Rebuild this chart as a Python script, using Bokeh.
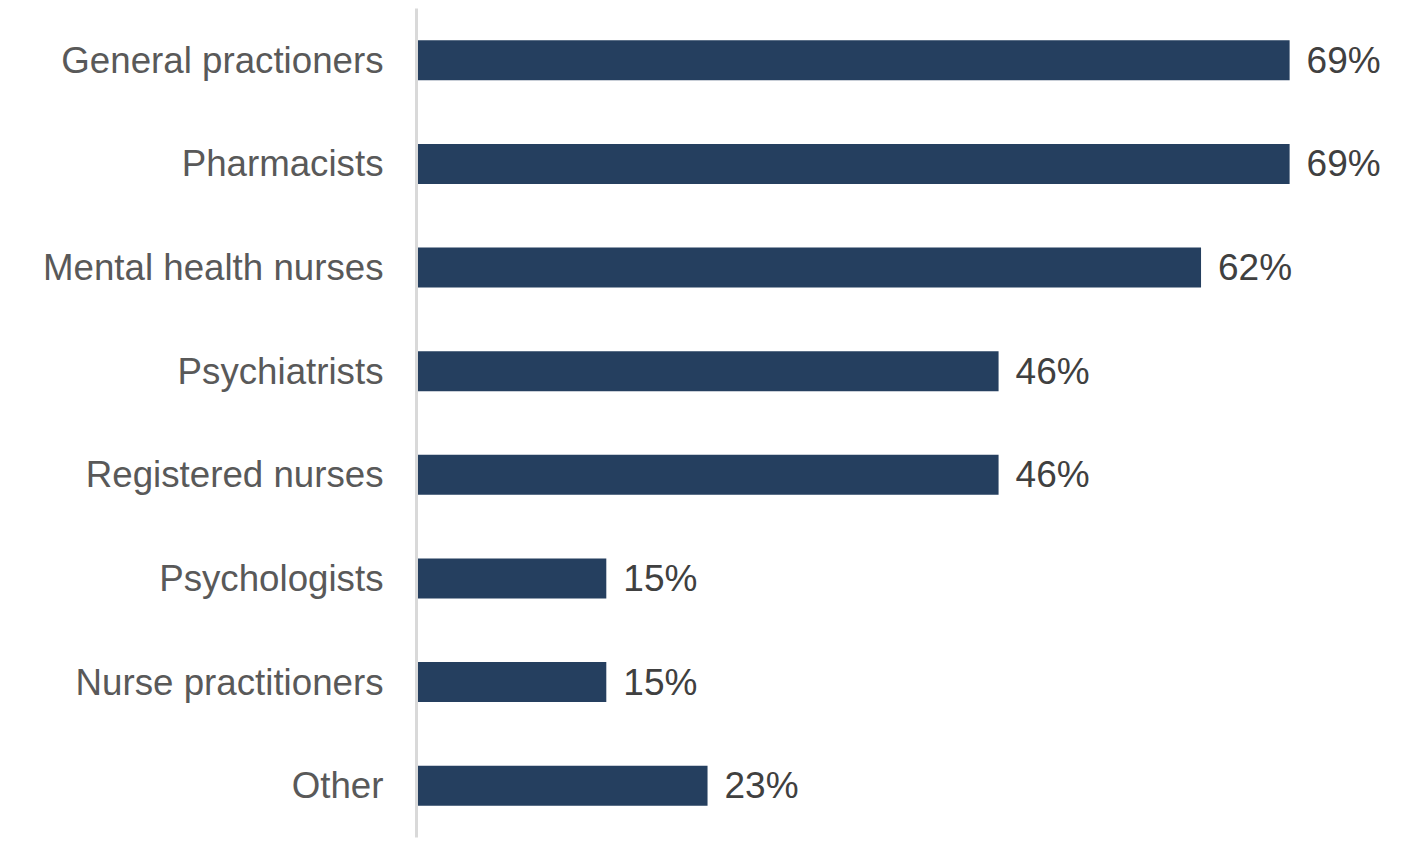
from bokeh.plotting import figure
from bokeh.models import ColumnDataSource, FactorRange, Range1d
from bokeh.embed import file_html
from bokeh.resources import INLINE

# dade ha
professions = ["General practioners", "Pharmacists", "Mental health nurses",
               "Psychiatrists", "Registered nurses", "Psychologists",
               "Nurse practitioners", "Other"]
shares = [69, 69, 62, 46, 46, 15, 15, 23]
share_labels = [str(s) + "%" for s in shares]

source = ColumnDataSource(data=dict(prof=professions, share=shares, lbl=share_labels))

p = figure(y_range=FactorRange(*professions[::-1]), x_range=Range1d(0, 78),
           width=1410, height=842, output_backend="svg", toolbar_location=None,
           min_border_left=416, min_border_right=7, min_border_top=8, min_border_bottom=5)

p.hbar(y="prof", right="share", left=0, height=0.386, source=source,
       color="#253F5F", line_color=None)

# meghdar kenare har bar
p.text(x="share", y="prof", text="lbl", source=source, x_offset=17,
       text_baseline="middle", text_align="left", text_color="#404040",
       text_font_size="37px", text_font={"value": "Liberation Sans"})

p.xaxis.visible = False
p.xgrid.grid_line_color = None
p.ygrid.grid_line_color = None
p.outline_line_color = None

p.yaxis.axis_line_color = "#D9D9D9"
p.yaxis.axis_line_width = 3
p.yaxis.major_tick_line_color = None
p.yaxis.minor_tick_line_color = None
p.yaxis.major_tick_out = 0
p.yaxis.major_label_standoff = 33
p.yaxis.major_label_text_font = "Liberation Sans"
p.yaxis.major_label_text_font_size = "36.7px"
p.yaxis.major_label_text_color = "#595959"

open("out.html", "w").write(file_html(p, INLINE))
